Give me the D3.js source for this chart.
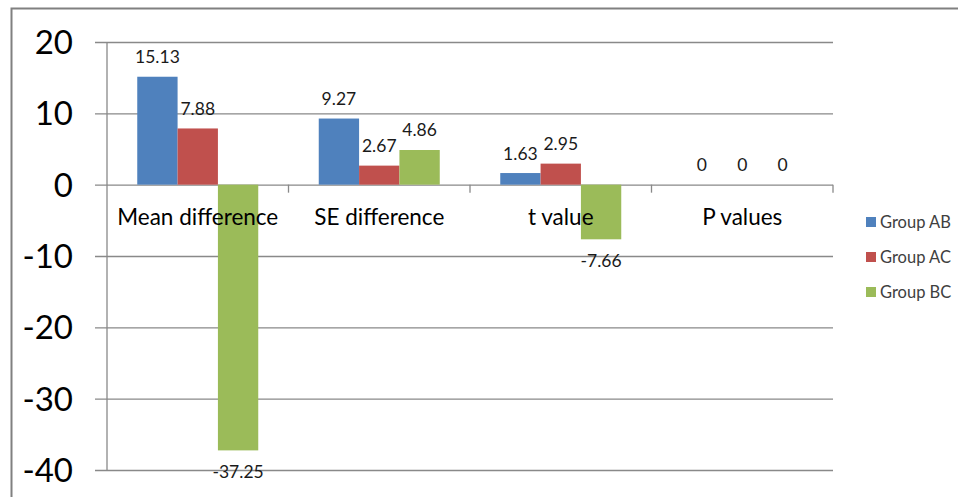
<!DOCTYPE html>
<html>
<head>
<meta charset="utf-8">
<script src="https://cdn.jsdelivr.net/npm/d3@7"></script>
<style>
  body { margin: 0; background: #fff; }
  svg { display: block; font-family: Lato, 'Open Sans', sans-serif; }
</style>
</head>
<body>
<div id="chart"></div>
<script>
'use strict';

// Data
let categories = ['Mean difference', 'SE difference', 't value', 'P values'];
let seriesNames = ['Group AB', 'Group AC', 'Group BC'];
let groupAB = [15.13, 9.27, 1.63, 0];
let groupAC = [7.88, 2.67, 2.95, 0];
let groupBC = [-37.25, 4.86, -7.66, 0];
let yTicks = [20, 10, 0, -10, -20, -30, -40];

let colors = ['#4f81bd', '#c0504d', '#9bbb59'];

// Formatting
let format = {
  width: 960,
  height: 497,
  plotLeft: 107,
  plotRight: 833,
  plotTop: 42,
  plotBottom: 470,
  gapWidth: 1.5
};

let seriesValues = [groupAB, groupAC, groupBC];
let rows = categories.map((c, i) => ({
  category: c,
  values: seriesNames.map((s, j) => ({ series: s, idx: j, value: seriesValues[j][i] }))
}));

let svg = d3.select('#chart').append('svg')
  .attr('width', format.width)
  .attr('height', format.height);

// outer frame
svg.append('path')
  .attr('d', `M11.5,${format.height} V8.5 H958`)
  .attr('fill', 'none')
  .attr('stroke', '#808080')
  .attr('stroke-width', 2);

let x0 = d3.scaleBand()
  .domain(categories)
  .range([format.plotLeft, format.plotRight])
  .padding(0);

let bw = x0.bandwidth();
let step = bw / (seriesNames.length + format.gapWidth);
let x1 = d3.scaleBand()
  .domain(seriesNames)
  .range([step * format.gapWidth / 2, bw - step * format.gapWidth / 2])
  .padding(0);

let y = d3.scaleLinear()
  .domain([-40, 20])
  .range([format.plotBottom, format.plotTop]);

// gridlines
let yAxis = d3.axisLeft(y)
  .tickValues(yTicks)
  .tickSize(-(format.plotRight - format.plotLeft))
  .tickSizeOuter(0)
  .tickFormat('');

let gridG = svg.append('g')
  .attr('transform', `translate(${format.plotLeft},0)`)
  .call(yAxis);
gridG.select('.domain').remove();
gridG.selectAll('.tick line')
  .attr('x1', -12)
  .attr('stroke', '#898989')
  .attr('stroke-width', 1.3);

// left axis line
svg.append('line')
  .attr('x1', format.plotLeft).attr('x2', format.plotLeft)
  .attr('y1', y(20)).attr('y2', y(-40))
  .attr('stroke', '#898989')
  .attr('stroke-width', 1.3);

// y tick labels
svg.append('g').selectAll('text')
  .data(yTicks)
  .enter()
  .append('text')
  .attr('x', 73)
  .attr('y', d => y(d))
  .attr('dy', '0.36em')
  .attr('text-anchor', 'end')
  .style('font-size', '33px')
  .style('fill', '#000')
  .text(d => d);

// category tick marks on zero line
let catTicks = categories.map(c => x0(c) + bw);
svg.append('g').selectAll('line')
  .data(catTicks)
  .enter()
  .append('line')
  .attr('x1', d => d).attr('x2', d => d)
  .attr('y1', y(0)).attr('y2', y(0) + 8)
  .attr('stroke', '#898989')
  .attr('stroke-width', 1.3);

// bars
let groups = svg.append('g').selectAll('g')
  .data(rows)
  .enter()
  .append('g')
  .attr('transform', d => `translate(${x0(d.category)},0)`);

groups.selectAll('rect')
  .data(d => d.values)
  .enter()
  .append('rect')
  .attr('x', d => x1(d.series))
  .attr('width', x1.bandwidth())
  .attr('y', d => y(Math.max(0, d.value)))
  .attr('height', d => Math.abs(y(d.value) - y(0)))
  .style('fill', d => colors[d.idx]);

// category labels
svg.append('g').selectAll('text')
  .data(categories)
  .enter()
  .append('text')
  .attr('x', d => x0(d) + bw / 2)
  .attr('y', 225)
  .attr('text-anchor', 'middle')
  .style('font-size', '22.5px')
  .style('fill', '#000')
  .text(d => d);

// data labels
groups.selectAll('text')
  .data(d => d.values)
  .enter()
  .append('text')
  .attr('x', d => x1(d.series) + x1.bandwidth() / 2)
  .attr('y', d => d.value >= 0 ? y(d.value) - 13.5 : y(d.value) + 28)
  .attr('text-anchor', 'middle')
  .style('font-size', '17.5px')
  .style('fill', '#1a1a1a')
  .text(d => d.value);

// legend
let legend = svg.append('g').selectAll('g')
  .data(seriesNames)
  .enter()
  .append('g')
  .attr('transform', (d, i) => `translate(866,${222 + i * 35})`);

legend.append('rect')
  .attr('x', 0).attr('y', -5)
  .attr('width', 10).attr('height', 10)
  .style('fill', (d, i) => colors[i]);

legend.append('text')
  .attr('x', 14)
  .attr('y', 0)
  .attr('dy', '0.36em')
  .style('font-size', '16.5px')
  .style('fill', '#404040')
  .text(d => d);
</script>
</body>
</html>
